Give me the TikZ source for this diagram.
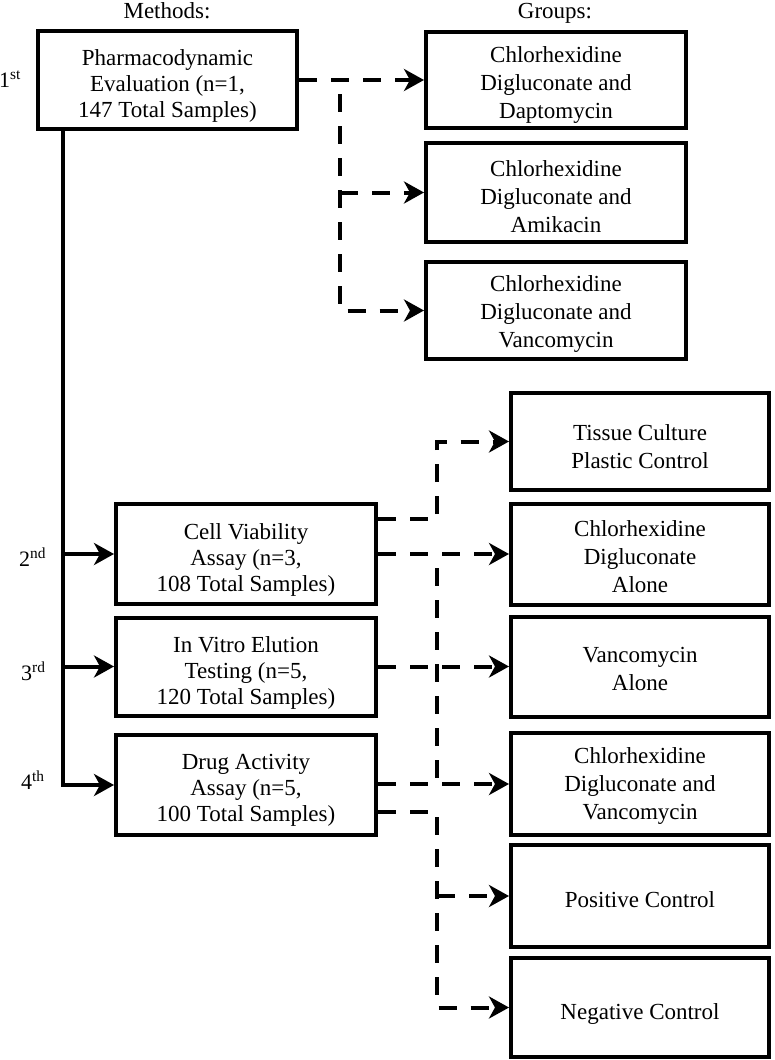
\documentclass[tikz,border=0pt]{standalone}
\usepackage{fontspec}
\setmainfont{Liberation Serif}
\usetikzlibrary{arrows.meta}
\begin{document}
\begin{tikzpicture}[x=1pt,y=-1pt,
  box/.style={draw, line width=4pt, rectangle, inner sep=0pt},
  mbox/.style={box, minimum width=260pt},
  gbox/.style={box, minimum width=260pt},
  lbox/.style={box, minimum width=258pt},
  mtxt/.style={align=center, inner sep=0pt, font=\fontsize{23}{26}\selectfont},
  gtxt/.style={align=center, inner sep=0pt, font=\fontsize{23}{28}\selectfont},
  tipstyle/.style={-{Stealth[length=20pt,width=22pt,inset=6pt]}},
  solidarrow/.style={line width=4pt, line join=miter, tipstyle},
  dashline/.style={line width=4pt, line join=miter, dash pattern=on 18pt off 14pt},
  dasharrow/.style={dashline, tipstyle},
  ord/.style={anchor=base west, inner sep=0pt, font=\fontsize{22}{24}\selectfont},
  head/.style={anchor=base, inner sep=0pt, font=\fontsize{23}{25}\selectfont}]
\useasboundingbox (0,0) rectangle (774,1060);

% headings
\node[head] (mh) at (167,18) {Methods:};
\node[head] (gh) at (555,18) {Groups:};

% ordinals
\node[ord] (o1) at (-1,87) {1\textsuperscript{st}};
\node[ord] (o2) at (19,566) {2\textsuperscript{nd}};
\node[ord] (o3) at (21,680) {3\textsuperscript{rd}};
\node[ord] (o4) at (21,789) {4\textsuperscript{th}};

% method boxes
\node[mbox, minimum width=259pt, minimum height=98pt] (pd) at (167.5,80) {};
\node[mtxt] (pdt) at ([yshift=-6pt]pd.center) {Pharmacodynamic\\Evaluation (n=1,\\147 Total Samples)};
\node[mbox, minimum height=100pt] (CV) at (246,554) {};
\node[mtxt] (CVt) at ([yshift=-6pt]CV.center) {Cell Viability\\Assay (n=3,\\108 Total Samples)};
\node[mbox, minimum height=98pt] (IV) at (246,666.5) {};
\node[mtxt] (IVt) at ([yshift=-6pt]IV.center) {In Vitro Elution\\Testing (n=5,\\120 Total Samples)};
\node[mbox, minimum height=100pt] (DA) at (246,785) {};
\node[mtxt] (DAt) at ([yshift=-5pt]DA.center) {Drug Activity\\Assay (n=5,\\100 Total Samples)};

% upper group boxes
\node[gbox, minimum height=96pt] (g1) at (556,80) {};
\node[gtxt] (g1t) at ([yshift=-5pt]g1.center) {Chlorhexidine\\Digluconate and\\Daptomycin};
\node[gbox, minimum height=99pt] (g2) at (556,192.5) {};
\node[gtxt] (g2t) at ([yshift=-4pt]g2.center) {Chlorhexidine\\Digluconate and\\Amikacin};
\node[gbox, minimum height=97pt] (g3) at (556,310.5) {};
\node[gtxt] (g3t) at ([yshift=-3pt]g3.center) {Chlorhexidine\\Digluconate and\\Vancomycin};

% lower group boxes
\node[lbox, minimum height=97pt] (TC) at (640,441.5) {};
\node[gtxt] (TCt) at ([yshift=-5pt]TC.center) {Tissue Culture\\Plastic Control};
\node[lbox, minimum height=101pt] (CA) at (640,554.5) {};
\node[gtxt] (CAt) at ([yshift=-2pt]CA.center) {Chlorhexidine\\Digluconate\\Alone};
\node[lbox, minimum height=100pt] (VA) at (640,667) {};
\node[gtxt] (VAt) at ([yshift=-2pt]VA.center) {Vancomycin\\Alone};
\node[lbox, minimum height=102pt] (CDV) at (640,784) {};
\node[gtxt] (CDVt) at ([yshift=-2pt]CDV.center) {Chlorhexidine\\Digluconate and\\Vancomycin};
\node[lbox, minimum height=102pt] (PC) at (640,896) {};
\node[gtxt] (PCt) at ([yshift=-4pt]PC.center) {Positive Control};
\node[lbox, minimum height=99pt] (NC) at (640,1007.5) {};
\node[gtxt] (NCt) at ([yshift=-6pt]NC.center) {Negative Control};

% helper columns
\coordinate (tx) at (63,0);
\coordinate (dx1) at (340,0);
\coordinate (dx2) at (437,0);

% solid trunk
\draw[solidarrow] (pd.south -| tx) |- (DA.west);
\draw[solidarrow] (CV.west -| tx) -- (CV.west);
\draw[solidarrow] (IV.west -| tx) -- (IV.west);

% upper dashed connectors
\draw[dasharrow] (pd.east) -- (g1.west);
\draw[dasharrow, dash phase=18pt] (pd.east -| dx1) |- (g3.west);
\draw[dasharrow] (g2.west -| dx1) -- (g2.west);

% lower dashed connectors
\draw[dasharrow] ([yshift=35pt]CV.east) -| (TC.west -| dx2) -- (TC.west);
\draw[dasharrow] (CV.east) -- (CV.east -| CA.west);
\draw[dashline, dash phase=18pt] (CV.east -| dx2) -- (CDV.west -| dx2);
\draw[dasharrow] (IV.east) -- (IV.east -| VA.west);
\draw[dasharrow] (CDV.west -| DA.east) -- (CDV.west);
\draw[dasharrow] ([yshift=-27pt]DA.east) -| (NC.west -| dx2) -- (NC.west);
\draw[dasharrow] (PC.west -| dx2) -- (PC.west);
\end{tikzpicture}
\end{document}
